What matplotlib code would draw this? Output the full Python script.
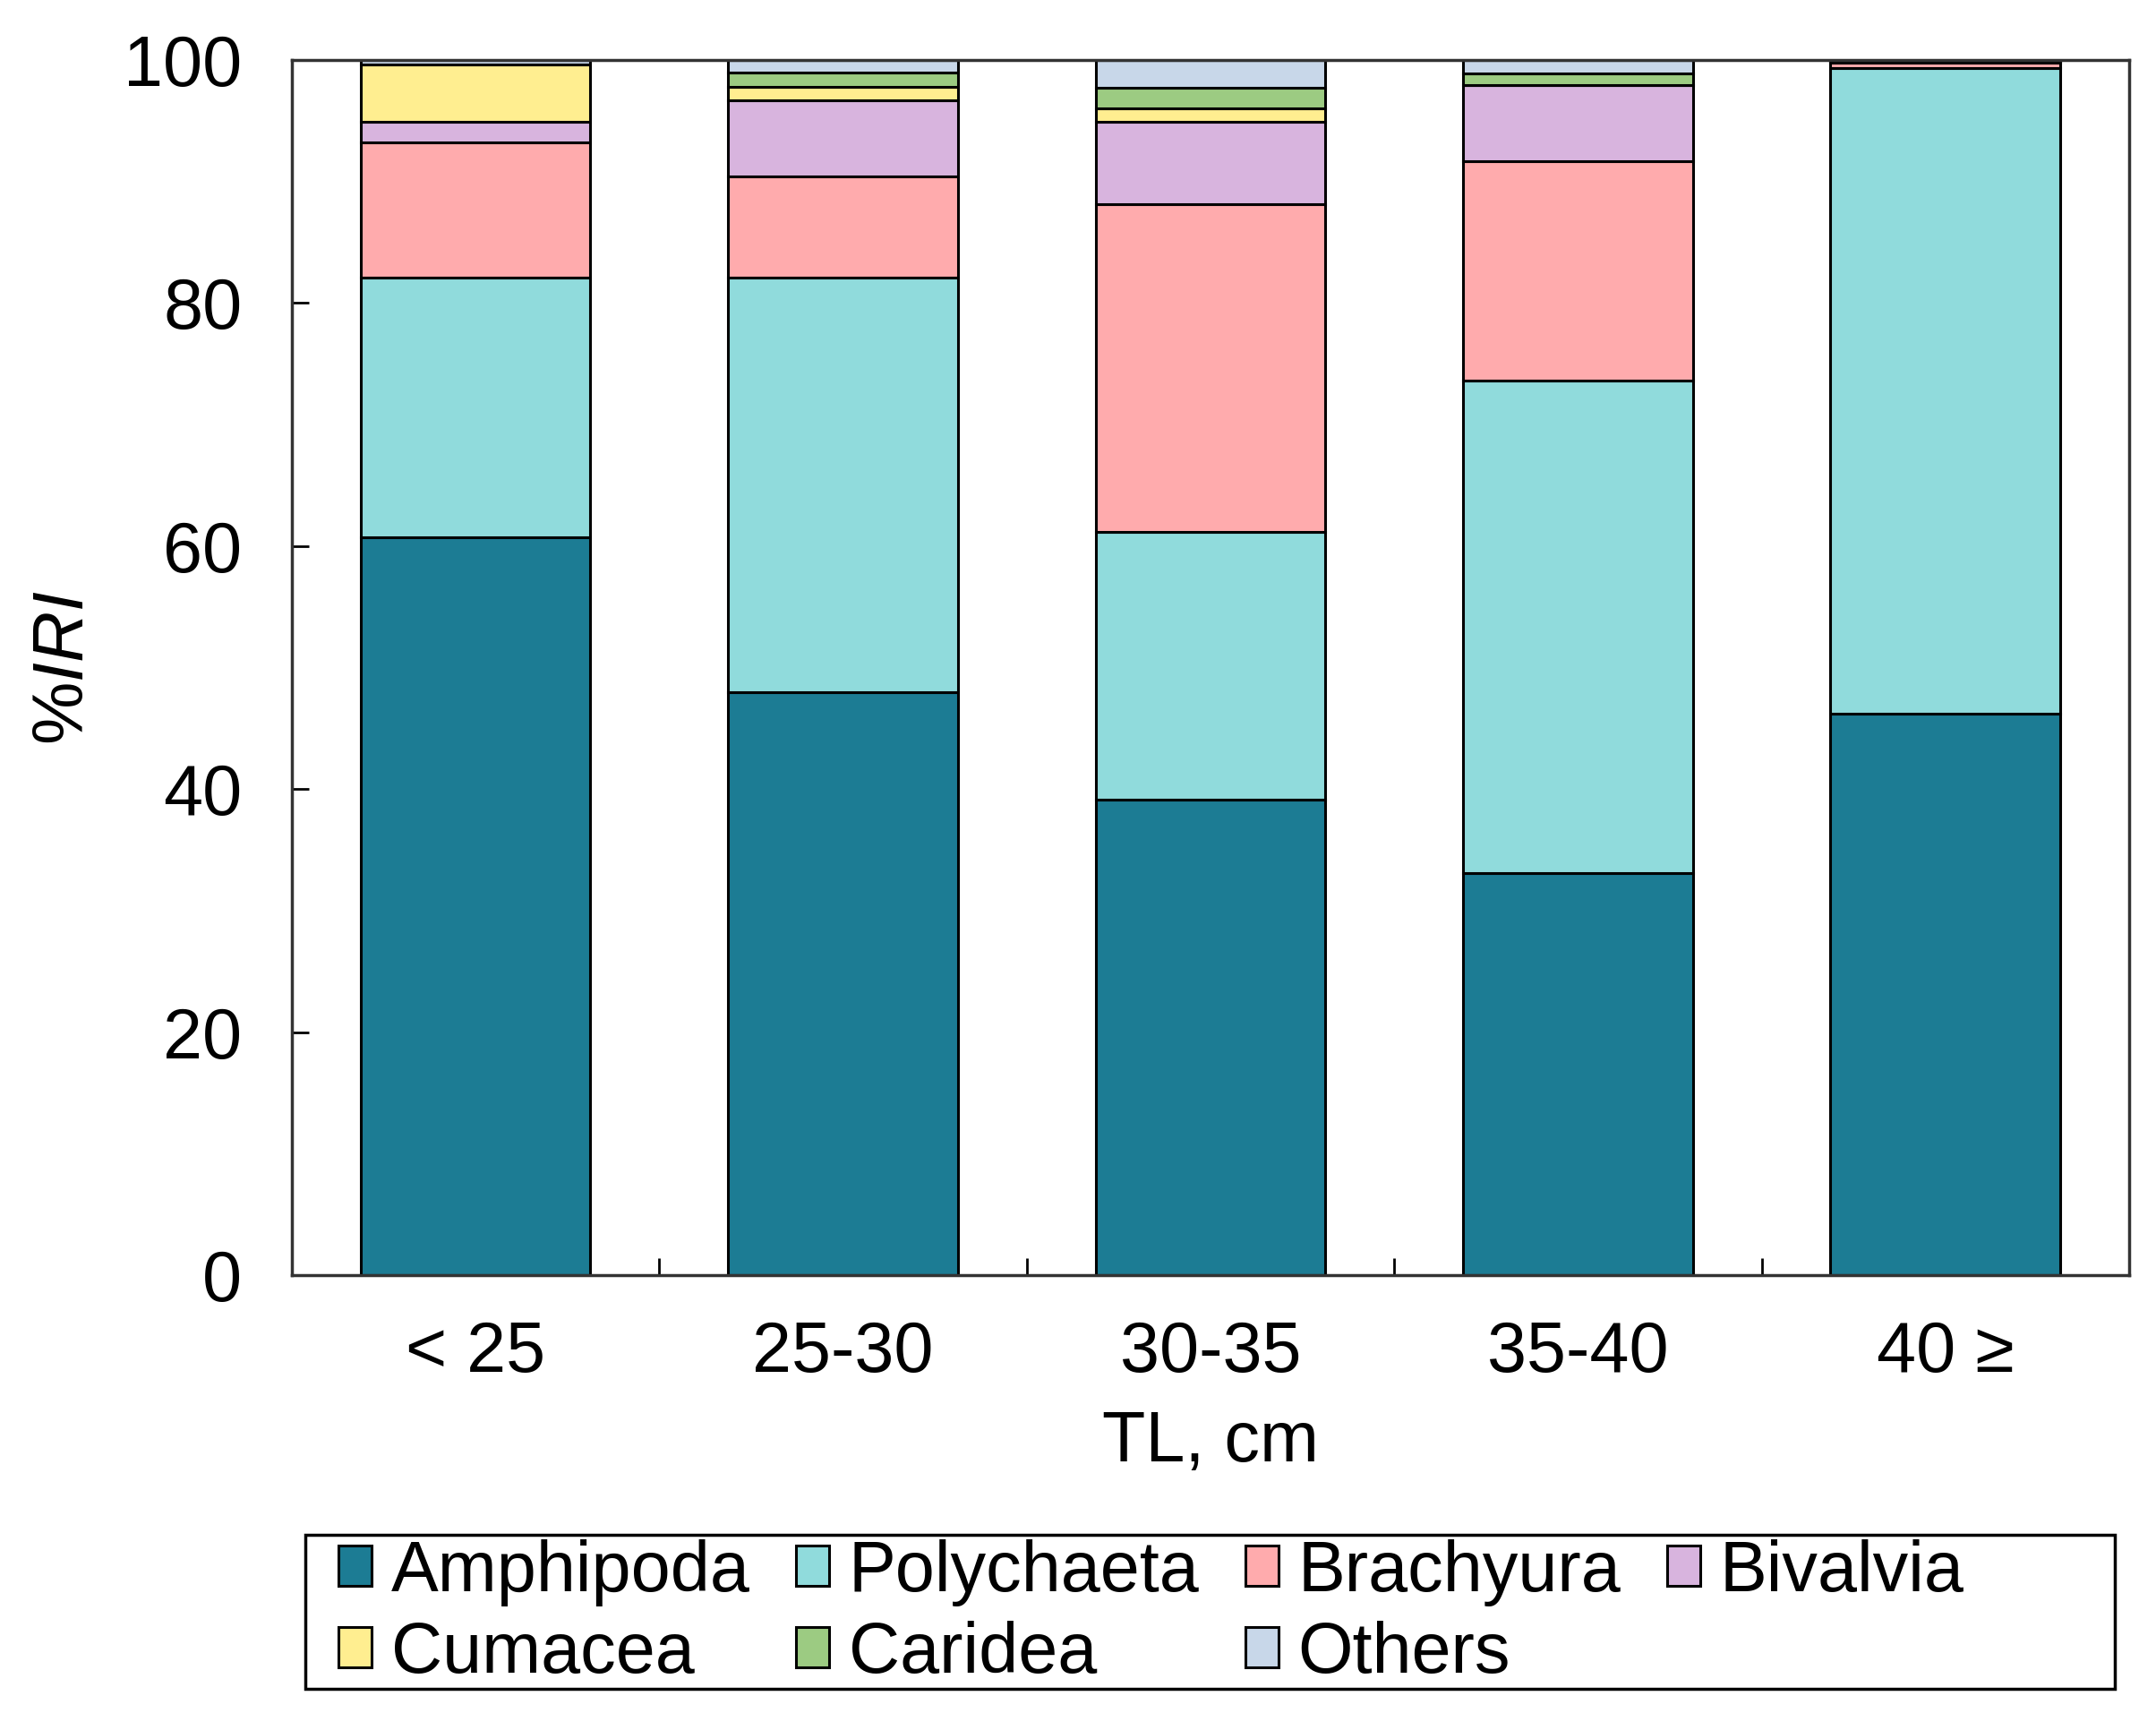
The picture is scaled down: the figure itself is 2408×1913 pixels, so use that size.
import matplotlib
matplotlib.use("Agg")
import matplotlib.pyplot as plt
from matplotlib.patches import Rectangle
import numpy as np

plt.rcParams['font.family'] = ['Liberation Sans', 'DejaVu Sans']
plt.rcParams['mathtext.fontset'] = 'custom'
plt.rcParams['mathtext.it'] = 'Liberation Sans:italic'
plt.rcParams['mathtext.rm'] = 'Liberation Sans'

categories = ['< 25', '25-30', '30-35', '35-40', '40 ≥']
amphipoda = [60.7, 48.0, 39.1, 33.1, 46.2]
polychaeta = [21.4, 34.1, 22.1, 40.5, 53.1]
brachyura = [11.1, 8.3, 26.9, 18.1, 0.5]
bivalvia = [1.7, 6.3, 6.8, 6.2, 0.1]
cumacea = [4.7, 1.1, 1.1, 0.0, 0.0]
caridea = [0.0, 1.2, 1.7, 1.0, 0.05]
others = [0.4, 1.0, 2.3, 1.1, 0.05]

series = [
    ('Amphipoda', amphipoda, '#1c7c94'),
    ('Polychaeta', polychaeta, '#90dbdc'),
    ('Brachyura', brachyura, '#ffabad'),
    ('Bivalvia', bivalvia, '#d8b4de'),
    ('Cumacea', cumacea, '#ffee90'),
    ('Caridea', caridea, '#9ccb82'),
    ('Others', others, '#c8d7e9'),
]

FS = 57

fig = plt.figure(figsize=(24.08, 19.13), dpi=100)
ax = fig.add_axes([0.1354, 0.2556, 0.8521, 0.7094])

x = np.arange(len(categories))
bottom = np.zeros(len(categories))
handles = {}
for name, vals, col in series:
    b = ax.bar(x, vals, width=0.625, bottom=bottom, color=col,
               edgecolor='black', linewidth=2.2, label=name)
    handles[name] = b
    bottom += np.array(vals)

ax.set_xlim(-0.5, 4.5)
ax.set_ylim(0, 100)
ax.set_yticks([0, 20, 40, 60, 80, 100])
ax.set_xticks(x)
ax.set_xticklabels(categories)
ax.set_xticks(np.arange(0.5, 4.5, 1), minor=True)
ax.tick_params(axis='x', which='major', length=0, pad=36, labelsize=FS)
ax.tick_params(axis='x', which='minor', direction='in', length=14, width=2)
ax.tick_params(axis='y', direction='in', length=14, width=2, pad=40, labelsize=FS)
for s in ax.spines.values():
    s.set_linewidth(2.5)
    s.set_color('#333333')

ax.set_xlabel('TL, cm', fontsize=FS, labelpad=18)
ax.set_ylabel('%$\\it{IRI}$', fontsize=FS, labelpad=20)

# legend entries laid out like Excel (row-wise), frame drawn separately
order = ['Amphipoda', 'Cumacea', 'Polychaeta', 'Caridea', 'Brachyura', 'Others', 'Bivalvia']
leg = fig.legend([handles[n] for n in order], order, loc='upper left',
                 bbox_to_anchor=(0.157, 0.1014), ncol=4, fontsize=FS,
                 frameon=False, handlelength=0.47, handleheight=0.5,
                 handletextpad=0.27, columnspacing=0.65, labelspacing=0.2,
                 borderpad=0, borderaxespad=0)
fig.add_artist(Rectangle((0.1416, 0.0141), 0.8393, 0.0899, transform=fig.transFigure,
                         fill=False, edgecolor='black', linewidth=2.5))

fig.savefig('out.png', dpi=100)
